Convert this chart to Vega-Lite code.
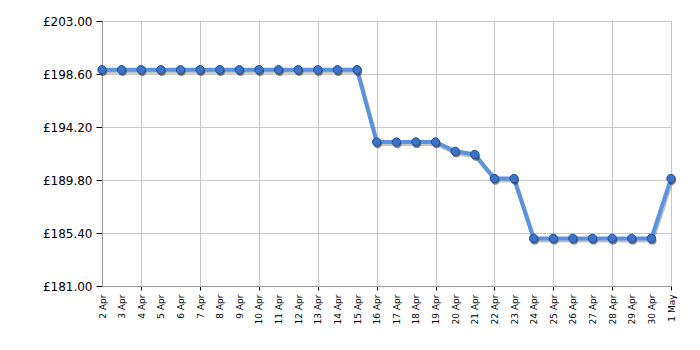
{
  "$schema": "https://vega.github.io/schema/vega-lite/v6.json",
  "autosize": "none",
  "width": 569,
  "height": 265,
  "padding": {"left": 102, "top": 21, "right": 29, "bottom": 64},
  "background": "white",
  "config": {"view": {"stroke": null}, "font": "DejaVu Sans"},
  "data": {"values": [
    {"day": "2 Apr", "price": 198.95},
    {"day": "3 Apr", "price": 198.95},
    {"day": "4 Apr", "price": 198.95},
    {"day": "5 Apr", "price": 198.95},
    {"day": "6 Apr", "price": 198.95},
    {"day": "7 Apr", "price": 198.95},
    {"day": "8 Apr", "price": 198.95},
    {"day": "9 Apr", "price": 198.95},
    {"day": "10 Apr", "price": 198.95},
    {"day": "11 Apr", "price": 198.95},
    {"day": "12 Apr", "price": 198.95},
    {"day": "13 Apr", "price": 198.95},
    {"day": "14 Apr", "price": 198.95},
    {"day": "15 Apr", "price": 198.95},
    {"day": "16 Apr", "price": 192.95},
    {"day": "17 Apr", "price": 192.95},
    {"day": "18 Apr", "price": 192.95},
    {"day": "19 Apr", "price": 192.95},
    {"day": "20 Apr", "price": 192.18},
    {"day": "21 Apr", "price": 191.92},
    {"day": "22 Apr", "price": 189.92},
    {"day": "23 Apr", "price": 189.92},
    {"day": "24 Apr", "price": 184.95},
    {"day": "25 Apr", "price": 184.95},
    {"day": "26 Apr", "price": 184.95},
    {"day": "27 Apr", "price": 184.95},
    {"day": "28 Apr", "price": 184.95},
    {"day": "29 Apr", "price": 184.95},
    {"day": "30 Apr", "price": 184.95},
    {"day": "1 May", "price": 189.92}
  ]},
  "encoding": {
    "x": {
      "field": "day", "type": "ordinal", "sort": null,
      "scale": {"type": "point", "padding": 0},
      "axis": {
        "title": null,
        "labelAngle": -90,
        "labelFontSize": 9,
        "labelColor": "#000",
        "labelPadding": 4,
        "labelFont": "DejaVu Sans",
        "labelOverlap": false,
        "domainColor": "#999999",
        "tickColor": "#000000",
        "tickSize": 4,
        "tickOpacity": {"condition": {"test": "indexof(['4 Apr','7 Apr','10 Apr','13 Apr','16 Apr','19 Apr','22 Apr','25 Apr','28 Apr','1 May'], datum.value) >= 0", "value": 1}, "value": 0},
        "grid": true,
        "gridColor": "#c8c8c8",
        "gridOpacity": {"condition": {"test": "indexof(['4 Apr','7 Apr','10 Apr','13 Apr','16 Apr','19 Apr','22 Apr','25 Apr','28 Apr','1 May'], datum.value) >= 0", "value": 1}, "value": 0}
      }
    },
    "y": {
      "field": "price", "type": "quantitative",
      "scale": {"domain": [181, 203], "nice": false, "zero": false},
      "axis": {
        "title": null,
        "values": [181, 185.4, 189.8, 194.2, 198.6, 203],
        "labelExpr": "'£' + format(datum.value, '.2f')",
        "labelFontSize": 12,
        "labelColor": "#000",
        "labelFont": "DejaVu Sans",
        "labelPadding": 4,
        "domainColor": "#999999",
        "tickColor": "#000000",
        "tickSize": 6,
        "grid": true,
        "gridColor": "#c8c8c8"
      }
    }
  },
  "layer": [
    {"mark": {"type": "line", "stroke": "#888888", "strokeWidth": 4, "opacity": 0.5, "xOffset": 1, "yOffset": 2}},
    {"mark": {"type": "line", "stroke": "#5a93df", "strokeWidth": 4}},
    {"mark": {"type": "point", "filled": true, "fill": "#333333", "opacity": 0.6, "size": 70, "xOffset": 1, "yOffset": 2}},
    {"mark": {"type": "point", "filled": true, "fill": "#3d74c9", "stroke": "#1f4c93", "strokeWidth": 1, "opacity": 1, "size": 70}}
  ]
}
